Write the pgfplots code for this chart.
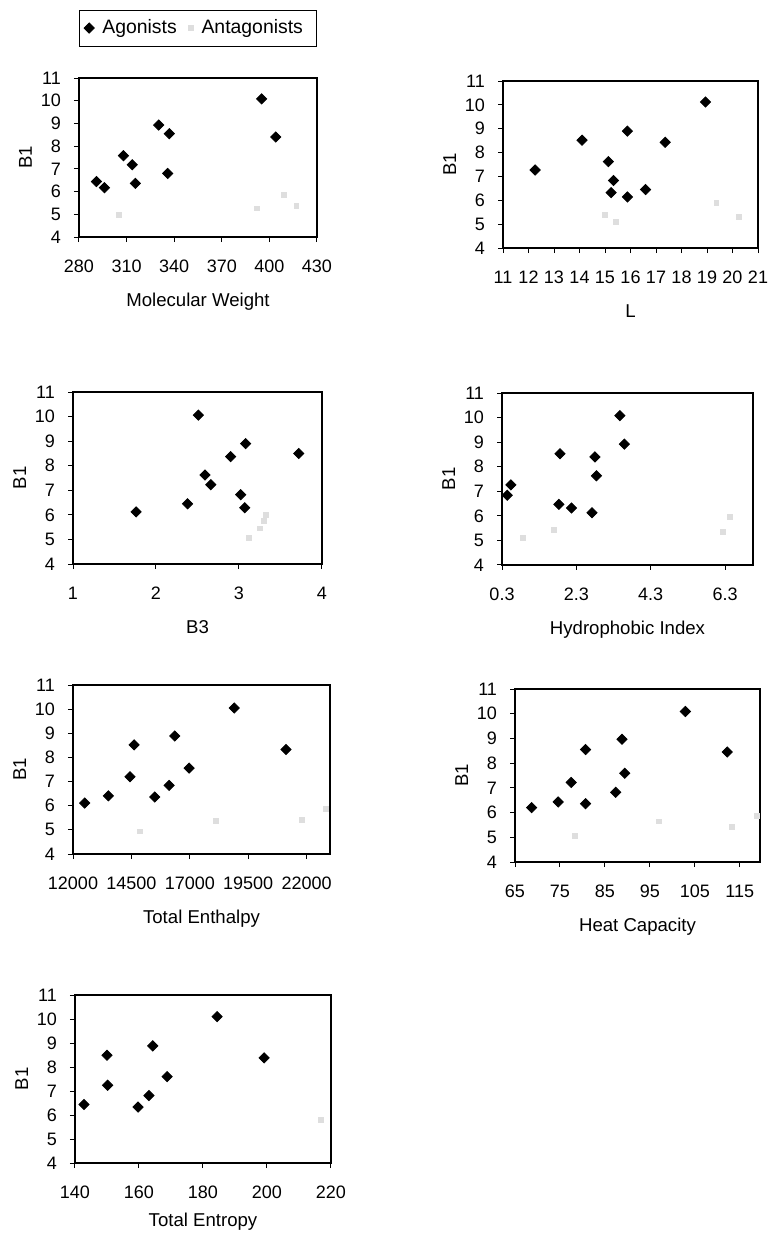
\documentclass[border=0pt]{standalone}
\usepackage{fontspec}
\setmainfont{Liberation Sans}
\usepackage{pgfplots}
\pgfplotsset{compat=1.18}

\pgfplotsset{
  pan/.style={
    scale only axis,
    ymin=4, ymax=11, ytick={4,...,11},
    tick pos=left, tick align=outside,
    major tick length=2.5pt,
    axis line style={line width=0.8pt},
    every tick/.style={black, line width=0.5pt},
    /pgf/number format/assume math mode=true,
    /pgf/number format/1000 sep={},
    ticklabel style={font=\fontsize{9}{10}\selectfont},
    yticklabel style={xshift=-3pt},
    xticklabel style={yshift=-5.3pt},
    xlabel style={at={(axis description cs:0.5,0)}, anchor=base, yshift=-34.8pt, font=\fontsize{9.3}{11}\selectfont},
    ylabel style={at={([xshift=-23.5pt]axis description cs:0,0.5)}, anchor=base, rotate=0, font=\fontsize{9.3}{11}\selectfont},
    ylabel={B1},
    clip=false,
  },
  ago/.style={only marks, mark=square*, mark size=1.8pt, mark options={rotate=45, fill=black, draw=black}},
  ant/.style={only marks, mark=square*, mark size=1.2pt, mark options={fill=black!13, draw=black!13}},
}

\begin{document}
\begin{tikzpicture}
\useasboundingbox (0,0) rectangle (384.5pt,-616.5pt);

% Molecular Weight
\begin{axis}[pan, at={(39.5pt,-39pt)}, anchor=north west, width=119pt, height=79.5pt,
  xmin=280, xmax=430, xtick={280,310,...,430}, xlabel={Molecular Weight},
  legend columns=2,
  legend style={at={(0.498,1.314)}, anchor=center, draw=black, line width=0.4pt,
    font=\fontsize{9.7}{11}\selectfont, inner xsep=2.5pt, inner ysep=2.8pt,
    nodes={inner xsep=4pt},
    /tikz/every even column/.append style={column sep=2pt}},
  legend image code/.code={\draw[mark repeat=2,mark phase=2,#1] plot coordinates {(0pt,0pt)(3pt,0pt)(6pt,0pt)};}]
  \addplot[ago] coordinates {(291,6.44)(296,6.17)(308,7.58)(313.6,7.18)(315.5,6.36)(330.2,8.93)(336.9,8.55)(335.9,6.80)(395.1,10.08)(404,8.40)};
  \addplot[ant] coordinates {(305,4.97)(392,5.26)(409,5.85)(417,5.36)};
  \legend{Agonists,Antagonists}
\end{axis}

% L
\begin{axis}[pan, at={(251.5pt,-40.5pt)}, anchor=north west, width=127.5pt, height=83.5pt,
  xmin=11, xmax=21, xtick={11,...,21}, xlabel={L}]
  \addplot[ago] coordinates {(12.26,7.27)(14.1,8.52)(15.13,7.62)(15.33,6.83)(15.24,6.32)(15.88,8.90)(15.88,6.14)(16.59,6.45)(17.36,8.43)(18.94,10.12)};
  \addplot[ant] coordinates {(15.0,5.39)(15.43,5.11)(19.37,5.90)(20.26,5.32)};
\end{axis}

% B3
\begin{axis}[pan, at={(36.5pt,-196pt)}, anchor=north west, width=124.5pt, height=86pt,
  xmin=1, xmax=4, xtick={1,2,3,4}, xlabel={B3}]
  \addplot[ago] coordinates {(1.76,6.12)(2.38,6.45)(2.51,10.06)(2.59,7.62)(2.66,7.23)(2.90,8.37)(3.08,8.90)(3.02,6.82)(3.07,6.29)(3.72,8.50)};
  \addplot[ant] coordinates {(3.12,5.05)(3.25,5.45)(3.30,5.75)(3.32,6.00)};
\end{axis}

% Hydrophobic Index
\begin{axis}[pan, at={(251pt,-196.5pt)}, anchor=north west, width=125.5pt, height=86pt,
  xmin=0.3, xmax=7.05, xtick={0.3,2.3,4.3,6.3},
  xticklabel={\pgfmathprintnumber[fixed,fixed zerofill,precision=1]{\tick}},
  xlabel={Hydrophobic Index}]
  \addplot[ago] coordinates {(0.44,6.84)(0.54,7.26)(1.86,8.53)(1.83,6.47)(2.17,6.32)(2.72,6.13)(2.80,8.40)(2.84,7.63)(3.47,10.08)(3.59,8.92)};
  \addplot[ant] coordinates {(0.87,5.11)(1.70,5.43)(6.25,5.36)(6.42,5.97)};
\end{axis}

% Total Enthalpy
\begin{axis}[pan, at={(36.5pt,-342.5pt)}, anchor=north west, width=128.5pt, height=84.5pt,
  xmin=12000, xmax=23000, xtick={12000,14500,...,22000}, scaled x ticks=false, xlabel={Total Enthalpy}]
  \addplot[ago] coordinates {(12500,6.11)(13514,6.41)(14443,7.20)(14614,8.52)(15500,6.36)(16114,6.84)(16357,8.89)(16971,7.56)(18900,10.05)(21114,8.33)};
  \addplot[ant] coordinates {(14857,4.94)(18114,5.38)(21800,5.42)(22829,5.86)};
\end{axis}

% Heat Capacity
\begin{axis}[pan, at={(257.5pt,-344.5pt)}, anchor=north west, width=122.5pt, height=86.5pt,
  xmin=65, xmax=119.5, xtick={65,75,...,115}, xlabel={Heat Capacity}]
  \addplot[ago] coordinates {(68.7,6.20)(74.6,6.43)(77.5,7.22)(80.7,8.55)(80.7,6.36)(87.4,6.82)(88.8,8.97)(89.4,7.59)(102.9,10.09)(112.2,8.45)};
  \addplot[ant] coordinates {(78.4,5.05)(97.0,5.64)(113.2,5.41)(118.8,5.86)};
\end{axis}

% Total Entropy
\begin{axis}[pan, at={(37.5pt,-497.5pt)}, anchor=north west, width=128pt, height=84pt,
  xmin=140, xmax=220, xtick={140,160,...,220}, xlabel={Total Entropy},
  xlabel style={yshift=3pt}]
  \addplot[ago] coordinates {(142.8,6.44)(150.0,8.49)(150.2,7.24)(159.7,6.33)(163.1,6.81)(164.3,8.88)(168.8,7.60)(184.4,10.10)(199.1,8.38)};
  \addplot[ant] coordinates {(216.8,5.80)};
\end{axis}
\end{tikzpicture}
\end{document}
